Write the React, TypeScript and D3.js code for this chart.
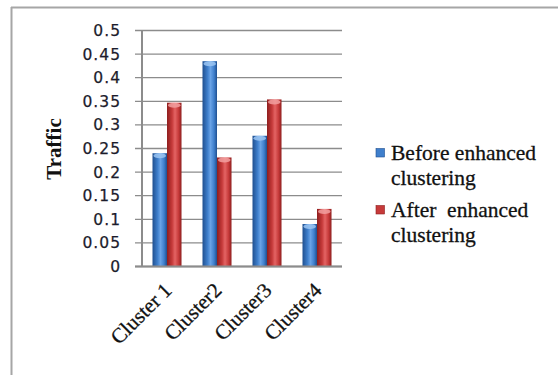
import React from "react";
import * as d3 from "d3";

const categories = ["Cluster 1", "Cluster2", "Cluster3", "Cluster4"];
const seriesNames = ["Before enhanced clustering", "After  enhanced clustering"];
const legendLines = [
  ["Before enhanced", "clustering"],
  ["After  enhanced", "clustering"],
];
const beforeValues = [0.24, 0.435, 0.277, 0.09];
const afterValues = [0.347, 0.231, 0.354, 0.122];
const yTicks = [0, 0.05, 0.1, 0.15, 0.2, 0.25, 0.3, 0.35, 0.4, 0.45, 0.5];

const W = 558;
const H = 375;
const plot = { left: 142, right: 342, top: 30.5, bottom: 266.5 };
const SERIF = "'Liberation Serif', 'Times New Roman', serif";

const palettes = [
  { dark: "#1f4f8f", mid: "#3f7fcc", light: "#6aa3e6", cap: "#9cc6f2" },
  { dark: "#8e1e1e", mid: "#c63a3a", light: "#e46464", cap: "#f2a0a0" },
];

export default function App() {
  const x0 = d3
    .scaleBand<string>()
    .domain(categories)
    .range([plot.left, plot.right])
    .paddingInner(0.42)
    .paddingOuter(0.21);
  const x1 = d3
    .scaleBand<number>()
    .domain([0, 1])
    .range([0, x0.bandwidth()]);
  const y = d3.scaleLinear().domain([0, 0.5]).range([plot.bottom, plot.top]);
  const series = [beforeValues, afterValues];

  return (
    <svg
      width={W}
      height={H}
      style={{ position: "absolute", left: 0, top: 0, background: "#fff" }}
    >
      <defs>
        {palettes.map((p, i) => (
          <linearGradient key={i} id={`bar${i}`} x1="0" x2="1" y1="0" y2="0">
            <stop offset="0%" stopColor={p.dark} />
            <stop offset="35%" stopColor={p.mid} />
            <stop offset="55%" stopColor={p.light} />
            <stop offset="80%" stopColor={p.mid} />
            <stop offset="100%" stopColor={p.dark} />
          </linearGradient>
        ))}
      </defs>

      {/* chart frame */}
      <line x1={11} x2={W} y1={7.5} y2={7.5} stroke="#a6a6a6" strokeWidth={2} />
      <line x1={11.5} x2={11.5} y1={7} y2={H} stroke="#a6a6a6" strokeWidth={2} />

      {/* gridlines and ticks */}
      {yTicks.map((t) => (
        <g key={t}>
          <line
            x1={plot.left - 7}
            x2={plot.right}
            y1={y(t)}
            y2={y(t)}
            stroke="#8c8c8c"
            strokeWidth={1.3}
          />
          <text
            x={121}
            y={y(t)}
            dy="0.36em"
            textAnchor="end"
            fontFamily="'DejaVu Sans', Verdana, sans-serif"
            fontSize={15.5}
            letterSpacing={1}
            fill="#1c1c2c"
            stroke="#1c1c2c"
            strokeWidth={0.25}
          >
            {t}
          </text>
        </g>
      ))}
      <line
        x1={plot.left}
        x2={plot.left}
        y1={plot.top}
        y2={plot.bottom}
        stroke="#8c8c8c"
        strokeWidth={2}
      />

      {/* bars */}
      {categories.map((c, ci) => (
        <g key={c} transform={`translate(${x0(c)},0)`}>
          {series.map((vals, si) => {
            const bx = x1(si)!;
            const bw = x1.bandwidth();
            const top = y(vals[ci]);
            return (
              <g key={si}>
                <rect
                  x={bx}
                  y={top}
                  width={bw}
                  height={plot.bottom - top}
                  fill={`url(#bar${si})`}
                />
                <ellipse
                  cx={bx + bw / 2}
                  cy={top + 2.5}
                  rx={bw / 2 - 1}
                  ry={2.5}
                  fill={palettes[si].cap}
                  opacity={0.85}
                />
              </g>
            );
          })}
        </g>
      ))}
      <line
        x1={plot.left - 7}
        x2={plot.right}
        y1={plot.bottom}
        y2={plot.bottom}
        stroke="#8c8c8c"
        strokeWidth={2}
      />

      {/* category labels */}
      {categories.map((c) => {
        const cx = x0(c)! + x0.bandwidth() / 2 + 6;
        const cy = plot.bottom + 25;
        return (
          <text
            key={c}
            transform={`translate(${cx},${cy}) rotate(-45)`}
            textAnchor="end"
            fontFamily={SERIF}
            fontSize={21}
            fill="#111"
            stroke="#111"
            strokeWidth={0.3}
          >
            {c}
          </text>
        );
      })}

      {/* axis title */}
      <text
        transform={`translate(61,149) rotate(-90)`}
        textAnchor="middle"
        fontFamily={SERIF}
        fontWeight="bold"
        fontSize={21}
        fill="#111"
      >
        Traffic
      </text>

      {/* legend */}
      {seriesNames.map((name, i) => {
        const top = i === 0 ? 148.5 : 205.5;
        return (
          <g key={name}>
            <rect x={376} y={top} width={8.5} height={8.5} fill={palettes[i].mid} stroke={palettes[i].dark} strokeWidth={0.6} />
            {legendLines[i].map((ln, li) => (
              <text
                key={li}
                x={391}
                y={top + 11.5 + li * 24.5}
                fontFamily={SERIF}
                fontSize={21.5}
                fill="#111"
                stroke="#111"
                strokeWidth={0.3}
                style={{ whiteSpace: "pre" }}
              >
                {ln}
              </text>
            ))}
          </g>
        );
      })}
    </svg>
  );
}
